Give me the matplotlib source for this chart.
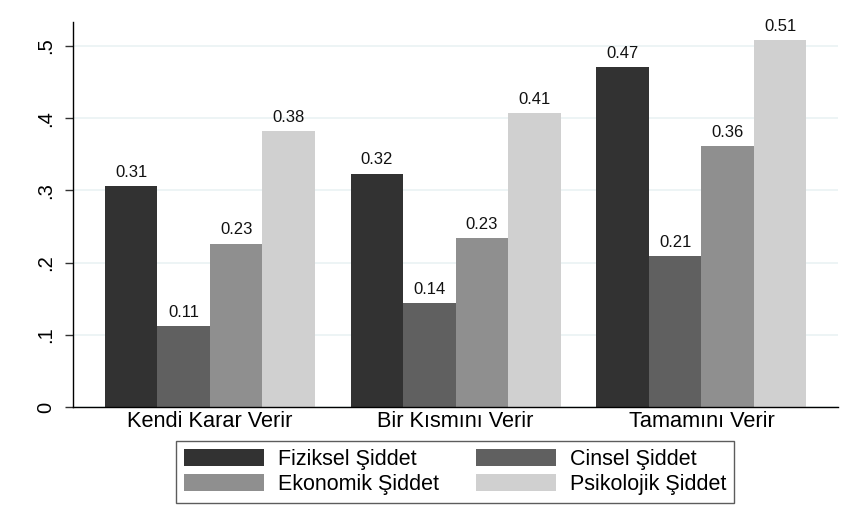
import matplotlib
matplotlib.use("Agg")
import matplotlib.pyplot as plt
import numpy as np

plt.rcParams['font.family'] = ['Liberation Sans', 'DejaVu Sans']

# Data
categories = ['Kendi Karar Verir', 'Bir Kısmını Verir', 'Tamamını Verir']
series = ['Fiziksel Şiddet', 'Cinsel Şiddet', 'Ekonomik Şiddet', 'Psikolojik Şiddet']
fiziksel = [0.306, 0.323, 0.471]
cinsel = [0.112, 0.144, 0.209]
ekonomik = [0.226, 0.234, 0.361]
psikolojik = [0.382, 0.407, 0.508]
yticks = [0, 0.1, 0.2, 0.3, 0.4, 0.5]
ytick_labels = ['0', '.1', '.2', '.3', '.4', '.5']

values = [fiziksel, cinsel, ekonomik, psikolojik]
colors = ['#323232', '#606060', '#8f8f8f', '#d0d0d0']

fig = plt.figure(figsize=(8.46, 5.25), dpi=100)
ax = fig.add_axes([0.0863, 0.2248, 0.904, 0.7333])

x = np.arange(len(categories))
w = 0.2135
handles = []
for i, (vals, col, name) in enumerate(zip(values, colors, series)):
    pos = x + (i - 1.5) * w
    bars = ax.bar(pos, vals, width=w, color=col, linewidth=0, label=name, zorder=2)
    handles.append(bars)
    for b, v in zip(bars, vals):
        ax.annotate('%.2f' % v, xy=(b.get_x() + b.get_width() / 2, v),
                    xytext=(0, 4.5), textcoords='offset points',
                    ha='center', va='bottom', fontsize=12, color='#111111')

ax.set_xlim(-0.557, 2.555)
ax.set_ylim(0, 0.533)
ax.set_yticks(yticks)
ax.set_yticklabels(ytick_labels, rotation=90, va='center', fontsize=14.5)
ax.set_xticks(x)
ax.set_xticklabels(categories, fontsize=15.7)
ax.tick_params(axis='x', length=0, pad=3)
ax.tick_params(axis='y', length=5.8, width=1, color='#333333', pad=7)

ax.grid(axis='y', color='#eaf2f3', linewidth=1.2, zorder=0)
ax.set_axisbelow(True)
for s in ['top', 'right']:
    ax.spines[s].set_visible(False)
for s in ['left', 'bottom']:
    ax.spines[s].set_color('black')
    ax.spines[s].set_linewidth(1)

# legend filled row by row like the original
order = [0, 2, 1, 3]
leg = ax.legend([handles[k] for k in order], [series[k] for k in order],
                ncol=2, loc='center', bbox_to_anchor=(0.5378, 0.101),
                bbox_transform=fig.transFigure, fontsize=15.5, frameon=True,
                fancybox=False, handlelength=3.72, handleheight=0.84,
                handletextpad=0.65, columnspacing=1.7, borderpad=0.38,
                labelspacing=0.2)
leg.get_frame().set_edgecolor('#333333')
leg.get_frame().set_linewidth(1)

plt.savefig('out.png', dpi=100)
